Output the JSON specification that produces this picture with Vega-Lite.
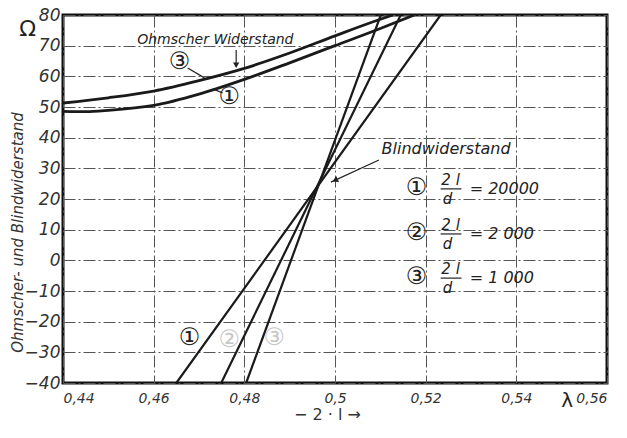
{
  "$schema": "https://vega.github.io/schema/vega-lite/v6.json",
  "width": 544,
  "height": 368,
  "autosize": "none",
  "padding": {"left": 63, "top": 15, "right": 20, "bottom": 55},
  "background": "white",
  "config": {
    "view": {"stroke": "#111", "strokeWidth": 3},
    "font": "DejaVu Sans",
    "text": {"font": "DejaVu Sans", "fontStyle": "italic", "color": "#222"}
  },
  "datasets": {
    "ohm": [
      {"series": "3", "x": 0.44, "y": 51.3},
      {"series": "3", "x": 0.45, "y": 53.0},
      {"series": "3", "x": 0.46, "y": 55.2},
      {"series": "3", "x": 0.47, "y": 58.6},
      {"series": "3", "x": 0.48, "y": 62.6},
      {"series": "3", "x": 0.49, "y": 67.6},
      {"series": "3", "x": 0.50, "y": 73.2},
      {"series": "3", "x": 0.51, "y": 78.6},
      {"series": "3", "x": 0.5128, "y": 80},
      {"series": "1", "x": 0.44, "y": 48.6},
      {"series": "1", "x": 0.445, "y": 48.5},
      {"series": "1", "x": 0.45, "y": 48.9},
      {"series": "1", "x": 0.46, "y": 50.5},
      {"series": "1", "x": 0.47, "y": 54.2},
      {"series": "1", "x": 0.48, "y": 59.0},
      {"series": "1", "x": 0.49, "y": 64.4},
      {"series": "1", "x": 0.50, "y": 70.0},
      {"series": "1", "x": 0.51, "y": 75.6},
      {"series": "1", "x": 0.5175, "y": 80}
    ],
    "blind": [
      {"series": "1", "x": 0.465, "y": -40},
      {"series": "1", "x": 0.5233, "y": 80},
      {"series": "2", "x": 0.4749, "y": -40},
      {"series": "2", "x": 0.5145, "y": 80},
      {"series": "3", "x": 0.4804, "y": -40},
      {"series": "3", "x": 0.5101, "y": 80}
    ],
    "leaders": [
      {"x": 0.4782, "y": 68.6, "x2": 0.4782, "y2": 63.5},
      {"x": 0.4675, "y": 62.7, "x2": 0.4712, "y2": 59.5},
      {"x": 0.473, "y": 55.9, "x2": 0.4752, "y2": 54.6},
      {"x": 0.5097, "y": 32.7, "x2": 0.4991, "y2": 25.5}
    ],
    "headDown": [{"x": 0.4782, "y": 63.6}],
    "headBlind": [{"x": 0.5, "y": 26.1}],
    "bigLabels": [
      {"x": 0.5245, "y": 34.7, "text": "Blindwiderstand"}
    ],
    "smallLabels": [
      {"x": 0.4736, "y": 70.5, "text": "Ohmscher Widerstand"}
    ],
    "circles": [
      {"x": 0.4657, "y": 64.7, "text": "③"},
      {"x": 0.4767, "y": 53.3, "text": "①"},
      {"x": 0.4679, "y": -25.3, "text": "①"},
      {"x": 0.518, "y": 23.6, "text": "①"},
      {"x": 0.518, "y": 8.9, "text": "②"},
      {"x": 0.518, "y": -5.4, "text": "③"}
    ],
    "fadedCircles": [
      {"x": 0.4767, "y": -26.0, "text": "②"},
      {"x": 0.4866, "y": -25.3, "text": "③"}
    ],
    "numer": [
      {"x": 0.5255, "y": 26.2, "text": "2 l"},
      {"x": 0.5255, "y": 11.5, "text": "2 l"},
      {"x": 0.5255, "y": -2.8, "text": "2 l"}
    ],
    "denom": [
      {"x": 0.5248, "y": 20.0, "text": "d"},
      {"x": 0.5248, "y": 5.3, "text": "d"},
      {"x": 0.5248, "y": -9.0, "text": "d"}
    ],
    "bars": [
      {"x": 0.5233, "x2": 0.5279, "y": 23.3},
      {"x": 0.5233, "x2": 0.5279, "y": 8.6},
      {"x": 0.5233, "x2": 0.5279, "y": -5.8}
    ],
    "eqs": [
      {"x": 0.5297, "y": 23.3, "text": "= 20000"},
      {"x": 0.5297, "y": 8.6, "text": "= 2 000"},
      {"x": 0.5297, "y": -5.8, "text": "= 1 000"}
    ],
    "omega": [{"x": 0.4322, "y": 75.3, "text": "Ω"}],
    "lambda": [{"x": 0.5512, "y": -46.0, "text": "λ"}]
  },
  "encoding": {
    "x": {
      "field": "x",
      "type": "quantitative",
      "scale": {"domain": [0.44, 0.56], "nice": false, "zero": false},
      "axis": {
        "values": [0.44, 0.46, 0.48, 0.5, 0.52, 0.54, 0.56],
        "labelExpr": "replace(format(datum.value, '.2~f'), '.', ',')",
        "labelFont": "DejaVu Sans",
        "labelFontStyle": "italic",
        "labelFontSize": 14,
        "labelColor": "#333",
        "labelPadding": 8,
        "ticks": false,
        "domain": false,
        "grid": true,
        "gridColor": "#555",
        "gridDash": [12, 3, 2, 3],
        "gridWidth": 1,
        "title": "− 2 · l →",
        "titleFont": "DejaVu Sans",
        "titleFontSize": 16,
        "titleFontWeight": "normal",
        "titleColor": "#333",
        "titleX": 264,
        "titleY": 36,
        "titleBaseline": "alphabetic",
        "titleAlign": "center"
      }
    },
    "y": {
      "field": "y",
      "type": "quantitative",
      "scale": {"domain": [-40, 80], "nice": false, "zero": false},
      "axis": {
        "values": [-40, -30, -20, -10, 0, 10, 20, 30, 40, 50, 60, 70, 80],
        "labelFont": "DejaVu Sans",
        "labelFontStyle": "italic",
        "labelFontSize": 17,
        "labelColor": "#333",
        "labelPadding": 3,
        "ticks": false,
        "domain": false,
        "grid": true,
        "gridColor": "#555",
        "gridDash": [12, 3, 2, 3],
        "gridWidth": 1,
        "title": "Ohmscher- und Blindwiderstand",
        "titleFont": "DejaVu Sans",
        "titleFontStyle": "italic",
        "titleFontSize": 15,
        "titleFontWeight": "normal",
        "titleColor": "#333",
        "titleAngle": -90,
        "titleX": -46,
        "titleY": 217,
        "titleAlign": "center",
        "titleBaseline": "middle"
      }
    }
  },
  "layer": [
    {
      "data": {"name": "ohm"},
      "mark": {"type": "line", "color": "#1a1a1a", "strokeWidth": 2.8, "interpolate": "monotone", "clip": true},
      "encoding": {"detail": {"field": "series"}}
    },
    {
      "data": {"name": "blind"},
      "mark": {"type": "line", "color": "#1a1a1a", "strokeWidth": 2.2, "clip": true},
      "encoding": {"detail": {"field": "series"}}
    },
    {
      "data": {"name": "leaders"},
      "mark": {"type": "rule", "color": "#222", "strokeWidth": 1.2},
      "encoding": {"x2": {"field": "x2"}, "y2": {"field": "y2"}}
    },
    {
      "data": {"name": "headDown"},
      "mark": {"type": "point", "shape": "triangle-down", "filled": true, "color": "#222", "size": 40, "opacity": 1},
      "encoding": {}
    },
    {
      "data": {"name": "headBlind"},
      "mark": {"type": "point", "shape": "triangle-up", "angle": 245, "filled": true, "color": "#222", "size": 45, "opacity": 1},
      "encoding": {}
    },
    {
      "data": {"name": "bigLabels"},
      "mark": {"type": "text", "fontSize": 16, "align": "center", "baseline": "alphabetic"},
      "encoding": {"text": {"field": "text"}}
    },
    {
      "data": {"name": "smallLabels"},
      "mark": {"type": "text", "fontSize": 14, "align": "center", "baseline": "alphabetic"},
      "encoding": {"text": {"field": "text"}}
    },
    {
      "data": {"name": "circles"},
      "mark": {"type": "text", "fontSize": 24, "fontStyle": "normal", "align": "center", "baseline": "middle"},
      "encoding": {"text": {"field": "text"}}
    },
    {
      "data": {"name": "fadedCircles"},
      "mark": {"type": "text", "fontSize": 24, "fontStyle": "normal", "align": "center", "baseline": "middle", "color": "#c8c8c8"},
      "encoding": {"text": {"field": "text"}}
    },
    {
      "data": {"name": "numer"},
      "mark": {"type": "text", "fontSize": 15, "align": "center", "baseline": "middle"},
      "encoding": {"text": {"field": "text"}}
    },
    {
      "data": {"name": "denom"},
      "mark": {"type": "text", "fontSize": 15, "align": "center", "baseline": "middle"},
      "encoding": {"text": {"field": "text"}}
    },
    {
      "data": {"name": "bars"},
      "mark": {"type": "rule", "color": "#222", "strokeWidth": 1.2},
      "encoding": {"x2": {"field": "x2"}}
    },
    {
      "data": {"name": "eqs"},
      "mark": {"type": "text", "fontSize": 16, "align": "left", "baseline": "middle"},
      "encoding": {"text": {"field": "text"}}
    },
    {
      "data": {"name": "omega"},
      "mark": {"type": "text", "fontSize": 22, "fontStyle": "normal", "align": "center", "baseline": "middle"},
      "encoding": {"text": {"field": "text"}}
    },
    {
      "data": {"name": "lambda"},
      "mark": {"type": "text", "fontSize": 20, "fontStyle": "normal", "align": "center", "baseline": "middle"},
      "encoding": {"text": {"field": "text"}}
    }
  ]
}
